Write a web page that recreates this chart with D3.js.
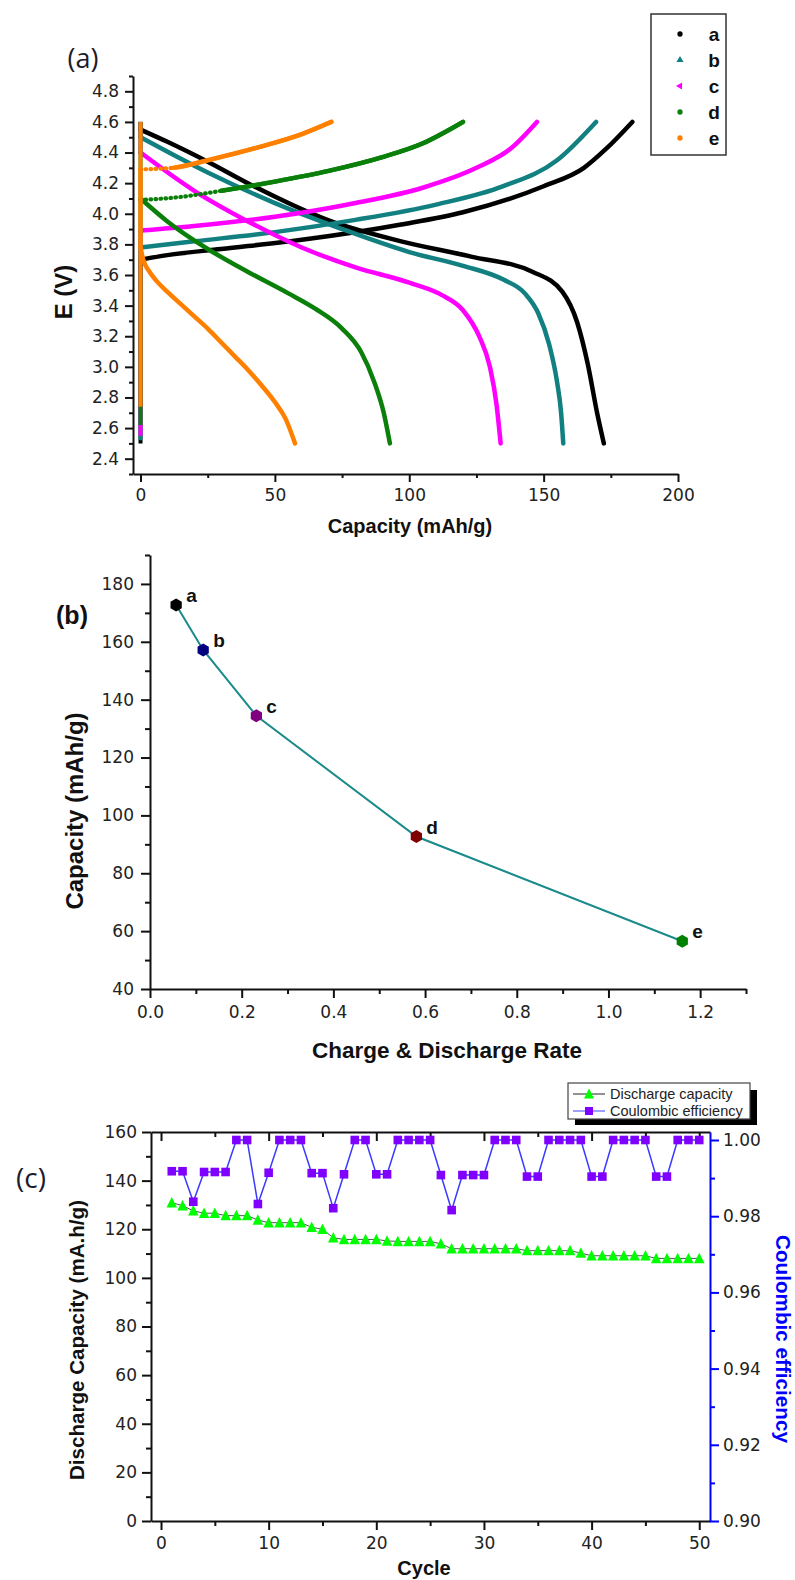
<!DOCTYPE html>
<html><head><meta charset="utf-8">
<script src="https://cdn.jsdelivr.net/npm/d3@7"></script>
<style>body{margin:0;background:#fff} svg{display:block}</style>
</head><body><svg id="chart" width="795" height="1580"></svg>
<script>
// ---------------- DATA ----------------
// Panel (a): charge / discharge curves [capacity mAh/g, E (V)]
const seriesNames = ["a", "b", "c", "d", "e"];
const chargeA = [[0,2.5],[0,3.70],[10,3.73],[30,3.77],[60,3.83],[97,3.93],[120,4.01],[150,4.18],[165,4.30],[173,4.42],[183,4.60]];
const dischargeA = [[0,4.60],[0,4.55],[10,4.47],[25,4.34],[41,4.19],[71,3.95],[97,3.82],[123,3.72],[146,3.62],[157,3.49],[162.5,3.29],[166.4,3.02],[170,2.69],[172.4,2.50]];
const chargeB = [[0,2.52],[0,3.78],[20,3.82],[50,3.88],[80,3.96],[110,4.06],[135,4.18],[155,4.35],[169.5,4.60]];
const dischargeB = [[0,4.60],[0,4.50],[25,4.27],[50,4.07],[75,3.90],[100,3.75],[120,3.66],[135,3.57],[143,3.48],[148,3.35],[152,3.15],[155,2.90],[156.5,2.70],[157.3,2.50]];
const chargeC = [[0,2.55],[0,3.89],[20,3.92],[50,3.98],[80,4.07],[105,4.17],[125,4.30],[138,4.43],[147.5,4.60]];
const dischargeC = [[0,4.60],[0,4.40],[20,4.15],[40,3.95],[60,3.78],[80,3.65],[100,3.55],[112,3.47],[120,3.37],[126,3.20],[130,3.00],[132.5,2.75],[134,2.50]];
const chargeD = [[0,2.62],[0,4.09],[15,4.11],[30,4.15],[50,4.21],[70,4.28],[90,4.37],[105,4.46],[120,4.60]];
const dischargeD = [[0,4.60],[0,4.10],[10,3.95],[25,3.77],[40,3.62],[55,3.48],[65,3.38],[75,3.25],[82,3.10],[87,2.90],[90.5,2.70],[92.8,2.50]];
const chargeE = [[0,2.74],[0,4.29],[12,4.30],[25,4.35],[45,4.44],[60,4.52],[71,4.60]];
const dischargeE = [[0,4.60],[0,3.78],[1,3.70],[3,3.63],[6,3.56],[10,3.49],[15,3.41],[20,3.33],[25,3.25],[30,3.16],[35,3.07],[40,2.98],[45,2.88],[50,2.77],[54,2.66],[57.5,2.50]];
const aXTicks = [0, 50, 100, 150, 200];
const aXMinor = [25, 75, 125, 175];
const aYTicks = [2.4, 2.6, 2.8, 3.0, 3.2, 3.4, 3.6, 3.8, 4.0, 4.2, 4.4, 4.6, 4.8];
const aYMinor = [2.3, 2.5, 2.7, 2.9, 3.1, 3.3, 3.5, 3.7, 3.9, 4.1, 4.3, 4.5, 4.7, 4.9];

// Panel (b): capacity vs rate
const rateLabels = ["a", "b", "c", "d", "e"];
const rates = [0.057, 0.116, 0.232, 0.581, 1.161];
const rateCapacities = [172.7, 157.2, 134.4, 92.7, 56.5];
const bXTicks = [0, 0.2, 0.4, 0.6, 0.8, 1.0, 1.2];
const bXMinor = [0.1, 0.3, 0.5, 0.7, 0.9, 1.1, 1.3];
const bYTicks = [40, 60, 80, 100, 120, 140, 160, 180];
const bYMinor = [50, 70, 90, 110, 130, 150, 170, 190];

// Panel (c): cycling
const cycles = [1,2,3,4,5,6,7,8,9,10,11,12,13,14,15,16,17,18,19,20,21,22,23,24,25,26,27,28,29,30,31,32,33,34,35,36,37,38,39,40,41,42,43,44,45,46,47,48,49,50];
const dischargeCapacity = [130.9,129.7,127.6,126.6,126.6,125.6,125.6,125.6,123.8,122.7,122.7,122.7,122.7,120.8,120.0,116.5,115.8,115.8,115.8,115.8,115.2,115.0,115.0,115.0,115.0,114.0,112.0,112.0,112.0,112.0,112.0,112.0,112.0,111.2,111.2,111.2,111.2,111.2,110.2,109.1,109.1,109.1,109.1,109.1,109.1,108.0,108.0,108.0,108.0,108.0];
const coulombicEff = [0.9918,0.9918,0.9838,0.9916,0.9916,0.9916,1.0,1.0,0.9832,0.9914,1.0,1.0,1.0,0.9913,0.9913,0.9821,0.991,1.0,1.0,0.991,0.991,1.0,1.0,1.0,1.0,0.9908,0.9816,0.9908,0.9908,0.9908,1.0,1.0,1.0,0.9904,0.9904,1.0,1.0,1.0,1.0,0.9904,0.9904,1.0,1.0,1.0,1.0,0.9904,0.9904,1.0,1.0,1.0];
const cXTicks = [0, 10, 20, 30, 40, 50];
const cXMinor = [5, 15, 25, 35, 45];
const cYTicks = [0, 20, 40, 60, 80, 100, 120, 140, 160];
const cYMinor = [10, 30, 50, 70, 90, 110, 130, 150];
const cRTicks = [0.90, 0.92, 0.94, 0.96, 0.98, 1.00];
const cRMinor = [0.91, 0.93, 0.95, 0.97, 0.99];
const legendC = ["Discharge capacity", "Coulombic efficiency"];

// ---------------- STYLE ----------------
const tickFont = "'DejaVu Sans', sans-serif";
const titleFont = "'Liberation Sans', Arial, sans-serif";
const tickColor = "#222";
const curveColors = {a: "#000000", b: "#128080", c: "#ff00ff", d: "#0a800a", e: "#ff8000"};
const dottedStart = {d: 30, e: 13};   // sparse-point look at start of charge curves
const rateColors = ["#000000", "#000080", "#800080", "#800000", "#008000"];

const svg = d3.select("#chart");

function drawAxis(g, axis, color, width, label) {
  g.call(axis);
  g.select(".domain").attr("stroke", color).attr("stroke-width", width);
  g.selectAll(".tick line").attr("stroke", color).attr("stroke-width", width);
  g.selectAll(".tick text").attr("fill", tickColor).attr("font-family", tickFont).attr("font-size", 17);
  if (!label) g.selectAll(".tick text").remove();
  return g;
}
function minorAxis(g, axis, color, width) {
  g.call(axis);
  g.select(".domain").remove();
  g.selectAll(".tick line").attr("stroke", color).attr("stroke-width", width);
  g.selectAll(".tick text").remove();
}
function title(x, y, txt, size, opts = {}) {
  const t = svg.append("text")
    .attr("transform", `translate(${x},${y}) rotate(${opts.rotate || 0})`)
    .attr("text-anchor", opts.anchor || "middle")
    .attr("font-family", opts.family || titleFont)
    .attr("font-weight", opts.weight || "bold")
    .attr("font-size", size)
    .attr("fill", opts.fill || "#111")
    .text(txt);
  if (opts.len) t.attr("textLength", opts.len).attr("lengthAdjust", "spacingAndGlyphs");
  return t;
}

// ================= PANEL (a) =================
const xA = d3.scaleLinear().domain([-2.8, 200]).range([133, 678]);
const yA = d3.scaleLinear().domain([2.3, 4.9]).range([474, 76]);

drawAxis(svg.append("g").attr("transform", "translate(0,474)"),
  d3.axisBottom(xA).tickValues(aXTicks).tickSize(8).tickPadding(7).tickSizeOuter(0), "#111", 2, true);
minorAxis(svg.append("g").attr("transform", "translate(0,474)"),
  d3.axisBottom(xA).tickValues(aXMinor).tickSize(4), "#111", 2);
drawAxis(svg.append("g").attr("transform", "translate(133,0)"),
  d3.axisLeft(yA).tickValues(aYTicks).tickFormat(d3.format(".1f")).tickSize(8).tickPadding(6).tickSizeOuter(0), "#111", 2, true);
minorAxis(svg.append("g").attr("transform", "translate(133,0)"),
  d3.axisLeft(yA).tickValues(aYMinor).tickSize(4), "#111", 2);

const lineStraight = d3.line().x(d => xA(d[0])).y(d => yA(d[1]));
const lineSmooth = d3.line().x(d => xA(d[0])).y(d => yA(d[1])).curve(d3.curveMonotoneX);
const curvesA = [
  ["a", chargeA, dischargeA], ["b", chargeB, dischargeB], ["c", chargeC, dischargeC],
  ["d", chargeD, dischargeD], ["e", chargeE, dischargeE]];
curvesA.forEach(([name, ch, dis]) => {
  [ch, dis].forEach((pts, k) => {
    // vertical step at zero capacity
    svg.append("path").attr("d", lineStraight(pts.slice(0, 2))).attr("fill", "none")
      .attr("stroke", curveColors[name]).attr("stroke-width", 4);
    const p = svg.append("path").attr("d", lineSmooth(pts.slice(1))).attr("fill", "none")
      .attr("stroke", curveColors[name]).attr("stroke-width", 4.5)
      .attr("stroke-linecap", "round").attr("stroke-linejoin", "round");
    if (k === 0 && dottedStart[name]) {
      // first part drawn as separate dots, the rest solid
      const node = p.node(), L = node.getTotalLength();
      const xCut = xA(dottedStart[name]);
      let lo = 0, hi = L;
      for (let it = 0; it < 30; it++) { const m = (lo + hi) / 2; if (node.getPointAtLength(m).x < xCut) lo = m; else hi = m; }
      p.attr("stroke-dasharray", `${d3.range(Math.floor(lo / 5)).map(() => "0.6,4.4").join(",")},0.6,0,${L}`)
       .attr("stroke-width", 4.2);
      svg.append("path").attr("d", lineSmooth(pts.slice(1))).attr("fill", "none")
        .attr("stroke", curveColors[name]).attr("stroke-width", 4.5).attr("stroke-linecap", "round")
        .attr("stroke-dasharray", `0,${lo},${L},0`);
    }
  });
});

// legend (a)
svg.append("rect").attr("x", 651).attr("y", 14).attr("width", 75).attr("height", 141)
  .attr("fill", "#fff").attr("stroke", "#333").attr("stroke-width", 1.5);
const legSym = [d3.symbolCircle, d3.symbolTriangle, d3.symbolTriangle, d3.symbolCircle, d3.symbolCircle];
const legRot = [0, 0, -90, 0, 0];
const legY = d3.scalePoint().domain(seriesNames).range([34, 138]);
seriesNames.forEach((n, i) => {
  svg.append("path").attr("d", d3.symbol().type(legSym[i]).size(22)())
    .attr("transform", `translate(680,${legY(n)}) rotate(${legRot[i]})`)
    .attr("fill", curveColors[n]);
  svg.append("text").attr("x", 714).attr("y", legY(n) + 7).attr("text-anchor", "middle")
    .attr("font-family", titleFont).attr("font-weight", "bold").attr("font-size", 19)
    .attr("fill", "#111").text(n);
});

title(83, 68, "(a)", 27, {family: "'Open Sans', sans-serif", weight: "normal", fill: "#1c1c2c"});
title(72, 292, "E (V)", 24, {rotate: -90});
title(410, 533, "Capacity (mAh/g)", 20);

// ================= PANEL (b) =================
const xB = d3.scaleLinear().domain([0, 1.3]).range([150, 746]);
const yB = d3.scaleLinear().domain([40, 190]).range([989, 555]);

drawAxis(svg.append("g").attr("transform", "translate(0,989)"),
  d3.axisBottom(xB).tickValues(bXTicks).tickFormat(d3.format(".1f")).tickSize(9).tickPadding(8).tickSizeOuter(0), "#111", 2, true);
minorAxis(svg.append("g").attr("transform", "translate(0,989)"),
  d3.axisBottom(xB).tickValues(bXMinor).tickSize(5), "#111", 2);
drawAxis(svg.append("g").attr("transform", "translate(150,0)"),
  d3.axisLeft(yB).tickValues(bYTicks).tickSize(9).tickPadding(7).tickSizeOuter(0), "#111", 2, true);
minorAxis(svg.append("g").attr("transform", "translate(150,0)"),
  d3.axisLeft(yB).tickValues(bYMinor).tickSize(5), "#111", 2);

const ptsB = rates.map((r, i) => ({x: r, y: rateCapacities[i], label: rateLabels[i], i}));
svg.append("path").attr("d", d3.line().x(d => xB(d.x)).y(d => yB(d.y))(ptsB))
  .attr("fill", "none").attr("stroke", "#1a8a8a").attr("stroke-width", 2);
const hex = r => d3.range(6).map(k => { const a = Math.PI / 3 * k + Math.PI / 6; return [r * Math.cos(a), r * Math.sin(a)]; });
ptsB.forEach(d => {
  svg.append("polygon").attr("points", hex(6.5).map(p => p.join(",")).join(" "))
    .attr("transform", `translate(${xB(d.x)},${yB(d.y)})`).attr("fill", rateColors[d.i]);
  svg.append("text").attr("x", xB(d.x) + 10).attr("y", yB(d.y) - 3)
    .attr("font-family", titleFont).attr("font-weight", "bold").attr("font-size", 19)
    .attr("fill", "#111").text(d.label);
});

title(72, 624, "(b)", 25);
title(83, 811, "Capacity (mAh/g)", 24, {rotate: -90, len: 197});
title(447, 1058, "Charge & Discharge Rate", 22.5, {len: 270});

// ================= PANEL (c) =================
const xC = d3.scaleLinear().domain([-0.93, 51.0]).range([151, 710]);
const yC = d3.scaleLinear().domain([0, 160]).range([1521, 1132]);
const yR = d3.scaleLinear().domain([0.9, 1.0021]).range([1521, 1132]);

drawAxis(svg.append("g").attr("transform", "translate(0,1521)"),
  d3.axisBottom(xC).tickValues(cXTicks).tickSize(9).tickPadding(7).tickSizeOuter(0), "#111", 2, true);
minorAxis(svg.append("g").attr("transform", "translate(0,1521)"),
  d3.axisBottom(xC).tickValues(cXMinor).tickSize(5), "#111", 2);
drawAxis(svg.append("g").attr("transform", "translate(0,1132)"),
  d3.axisBottom(xC).tickValues(cXTicks).tickSize(9).tickSizeOuter(0), "#111", 2, false);
minorAxis(svg.append("g").attr("transform", "translate(0,1132)"),
  d3.axisBottom(xC).tickValues(cXMinor).tickSize(5), "#111", 2);
drawAxis(svg.append("g").attr("transform", "translate(151,0)"),
  d3.axisLeft(yC).tickValues(cYTicks).tickSize(9).tickPadding(5).tickSizeOuter(0), "#111", 2, true);
minorAxis(svg.append("g").attr("transform", "translate(151,0)"),
  d3.axisLeft(yC).tickValues(cYMinor).tickSize(5), "#111", 2);
drawAxis(svg.append("g").attr("transform", "translate(710,0)"),
  d3.axisRight(yR).tickValues(cRTicks).tickFormat(d3.format(".2f")).tickSize(9).tickPadding(4).tickSizeOuter(0), "#0000ff", 2, true);
minorAxis(svg.append("g").attr("transform", "translate(710,0)"),
  d3.axisRight(yR).tickValues(cRMinor).tickSize(5), "#0000ff", 2);

const triPath = s => `M0,${-s * 0.55}L${s / 2},${s * 0.45}L${-s / 2},${s * 0.45}Z`;
const dcPts = cycles.map((c, i) => [c, dischargeCapacity[i]]);
svg.append("path").attr("d", d3.line().x(d => xC(d[0])).y(d => yC(d[1]))(dcPts))
  .attr("fill", "none").attr("stroke", "#555").attr("stroke-width", 1);
dcPts.forEach(d => svg.append("path").attr("d", triPath(10.5))
  .attr("transform", `translate(${xC(d[0])},${yC(d[1])})`).attr("fill", "#00ff00"));

const cePts = cycles.map((c, i) => [c, coulombicEff[i]]);
svg.append("path").attr("d", d3.line().x(d => xC(d[0])).y(d => yR(d[1]))(cePts))
  .attr("fill", "none").attr("stroke", "#3a3aff").attr("stroke-width", 1.5);
cePts.forEach(d => svg.append("rect").attr("x", xC(d[0]) - 4.3).attr("y", yR(d[1]) - 4.3)
  .attr("width", 8.6).attr("height", 8.6).attr("fill", "#8000ff"));

// legend (c)
svg.append("rect").attr("x", 575).attr("y", 1090).attr("width", 182).attr("height", 35).attr("fill", "#000");
svg.append("rect").attr("x", 568).attr("y", 1083).attr("width", 182).attr("height", 36)
  .attr("fill", "#fff").attr("stroke", "#444").attr("stroke-width", 1.2);
const legCY = [1094, 1111];
[["#555", "tri"], ["#6a6aff", "sq"]].forEach(([col, m], i) => {
  svg.append("line").attr("x1", 573).attr("x2", 605).attr("y1", legCY[i]).attr("y2", legCY[i])
    .attr("stroke", col).attr("stroke-width", 1.3);
  if (m === "tri") svg.append("path").attr("d", triPath(10)).attr("transform", `translate(589,${legCY[i]})`).attr("fill", "#00ff00");
  else svg.append("rect").attr("x", 585).attr("y", legCY[i] - 4).attr("width", 8).attr("height", 8).attr("fill", "#8000ff");
  svg.append("text").attr("x", 610).attr("y", legCY[i] + 5).attr("font-family", titleFont)
    .attr("font-size", 14.5).attr("fill", "#222").text(legendC[i]);
});

title(31, 1188, "(c)", 28, {family: "'Open Sans', sans-serif", weight: "normal", fill: "#1c1c2c"});
title(84, 1340, "Discharge Capacity (mA.h/g)", 20.6, {rotate: -90, len: 280});
title(776, 1339, "Coulombic efficiency", 20.2, {rotate: 90, len: 208, fill: "#0000ff"});
title(424, 1575, "Cycle", 20);
</script></body></html>
